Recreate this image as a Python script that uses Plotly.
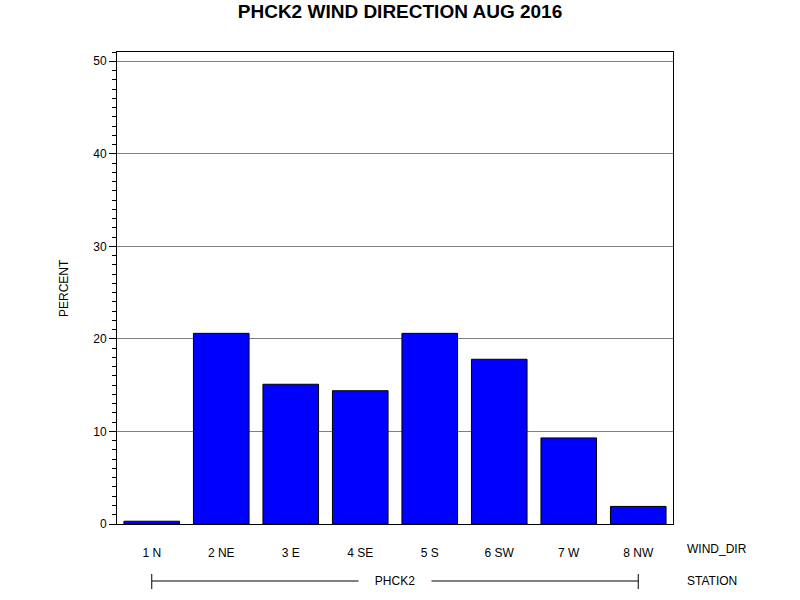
import plotly.graph_objects as go

# wind direction categories and percent of observations
wind_dir = ["1 N", "2 NE", "3 E", "4 SE", "5 S", "6 SW", "7 W", "8 NW"]
percent = [0.3, 20.6, 15.1, 14.4, 20.6, 17.8, 9.3, 1.9]
station = "PHCK2"
y_ticks = [0, 10, 20, 30, 40, 50]

font_name = "Arial, Liberation Sans, sans-serif"

bars = go.Bar(
    x=wind_dir,
    y=percent,
    width=0.8,
    marker=dict(color="#0000FF", line=dict(color="black", width=1)),
    hoverinfo="x+y",
)

fig = go.Figure(data=[bars])

fig.update_layout(
    width=800,
    height=600,
    margin=dict(l=117, r=127, t=52, b=76),
    paper_bgcolor="white",
    plot_bgcolor="white",
    showlegend=False,
    font=dict(family=font_name, size=12, color="black"),
    title=dict(
        text="<b>PHCK2 WIND DIRECTION AUG 2016</b>",
        x=0.5, xanchor="center",
        y=1 - 11 / 600, yanchor="middle",
        font=dict(family=font_name, size=19, color="black"),
    ),
)

fig.update_xaxes(
    type="category",
    range=[-0.5, 7.5],
    showline=True, linecolor="black", linewidth=1, mirror=True,
    showgrid=False, ticks="", ticklen=0,
    tickfont=dict(size=12),
    ticklabelstandoff=18,
)

fig.update_yaxes(
    range=[0, 51],
    tickvals=y_ticks,
    showline=True, linecolor="black", linewidth=1, mirror=True,
    showgrid=True, gridcolor="#808080", gridwidth=1,
    zeroline=False,
    ticks="outside", ticklen=7, tickcolor="black",
    minor=dict(dtick=1, ticks="outside", ticklen=4, tickcolor="black", showgrid=False),
    tickfont=dict(size=12),
)

# y-axis label
fig.add_annotation(
    text="PERCENT", xref="paper", yref="paper",
    x=(64 - 117) / 556, y=0.5, textangle=-90,
    xanchor="center", yanchor="middle",
    showarrow=False, font=dict(size=12),
)

# row labels on the right
row_y1 = (524 - 549) / 472
row_y2 = (524 - 581) / 472
fig.add_annotation(
    text="WIND_DIR", xref="paper", yref="paper",
    x=(685 - 117) / 556, y=row_y1, xanchor="left", yanchor="middle",
    showarrow=False, font=dict(size=12),
)
fig.add_annotation(
    text="STATION", xref="paper", yref="paper",
    x=(685 - 117) / 556, y=row_y2, xanchor="left", yanchor="middle",
    showarrow=False, font=dict(size=12),
)

# station bracket under the categories
fig.add_shape(
    type="line", xref="x", yref="paper",
    x0=wind_dir[0], x1=wind_dir[-1], y0=row_y2, y1=row_y2,
    line=dict(color="black", width=1),
)
for cat in [wind_dir[0], wind_dir[-1]]:
    fig.add_shape(
        type="line", xref="x", yref="paper",
        x0=cat, x1=cat, y0=row_y2 - 8 / 472, y1=row_y2 + 7 / 472,
        line=dict(color="black", width=1),
    )
fig.add_annotation(
    text=station, xref="paper", yref="paper",
    x=(395 - 117) / 556, y=row_y2, xanchor="center", yanchor="middle",
    showarrow=False, bgcolor="white", borderpad=0, width=72,
    font=dict(size=12),
)

# drop the browser's default page margin so the figure sits at 0,0
fig.write_html(
    "out.html",
    config={"displayModeBar": False},
    post_script="document.body.style.margin='0';",
)
